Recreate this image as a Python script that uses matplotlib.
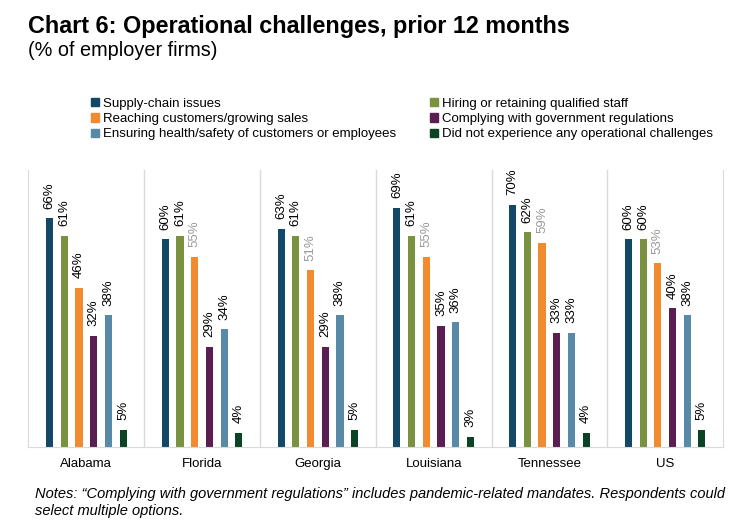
import matplotlib.pyplot as plt
import numpy as np
from matplotlib.patches import Patch

plt.rcParams['font.family'] = ['Liberation Sans', 'DejaVu Sans']

# data
regions = ['Alabama', 'Florida', 'Georgia', 'Louisiana', 'Tennessee', 'US']
series = ['Supply-chain issues',
          'Hiring or retaining qualified staff',
          'Reaching customers/growing sales',
          'Complying with government regulations',
          'Ensuring health/safety of customers or employees',
          'Did not experience any operational challenges']
supply = [66, 60, 63, 69, 70, 60]
hiring = [61, 61, 61, 61, 62, 60]
reaching = [46, 55, 51, 55, 59, 53]
complying = [32, 29, 29, 35, 33, 40]
ensuring = [38, 34, 38, 36, 33, 38]
none_ = [5, 4, 5, 3, 4, 5]
values = [supply, hiring, reaching, complying, ensuring, none_]

colors = ['#134766', '#7a9140', '#f28a30', '#5a1e52', '#5889a6', '#0b4424']

fig = plt.figure(figsize=(7.46, 5.32), dpi=100)
ax = fig.add_axes([0.0382, 0.1598, 0.9310, 0.5207])

x = np.arange(len(regions))
step = 0.127
width = 0.062
for i, (vals, col) in enumerate(zip(values, colors)):
    pos = x + (i - 2.5) * step
    ax.bar(pos, vals, width=width, color=col, zorder=2)
    for j, (p, v) in enumerate(zip(pos, vals)):
        # orange labels are grey in the original, except Alabama
        tc = '#9a9a9a' if (i == 2 and j > 0) else 'black'
        ax.annotate('{}%'.format(v), (p, v), xytext=(0, 7), textcoords='offset points',
                    rotation=90, ha='center', va='bottom', fontsize=9.5, color=tc)

ax.set_xlim(-0.5, len(regions) - 0.5)
ax.set_ylim(0, 80)
ax.set_yticks([])
ax.set_xticks(x)
ax.set_xticklabels(regions, fontsize=9.5)
ax.tick_params(axis='x', length=0, pad=8)
for k in range(1, len(regions)):
    ax.axvline(k - 0.5, color='#d9d9d9', lw=1, zorder=1)
for s in ['left', 'right', 'bottom']:
    ax.spines[s].set_color('#d9d9d9')
ax.spines['top'].set_visible(False)

order = [0, 2, 4, 1, 3, 5]
handles = [Patch(color=colors[i], label=series[i]) for i in order]
fig.legend(handles=handles, ncol=2, loc='upper left', bbox_to_anchor=(0.115, 0.826),
           frameon=False, fontsize=9.5, handlelength=0.6, handleheight=0.6,
           handletextpad=0.3, labelspacing=0.25, columnspacing=2.6, borderaxespad=0)

fig.text(0.037, 0.938, 'Chart 6: Operational challenges, prior 12 months',
         fontsize=16.8, fontweight='bold', va='baseline')
fig.text(0.037, 0.895, '(% of employer firms)', fontsize=14.3, va='baseline')
fig.text(0.047, 0.055, 'Notes: \u201cComplying with government regulations\u201d includes pandemic-related mandates. Respondents could\nselect multiple options.',
         fontsize=10.5, style='italic', va='center', linespacing=1.25)

fig.savefig('out.png', dpi=100)
